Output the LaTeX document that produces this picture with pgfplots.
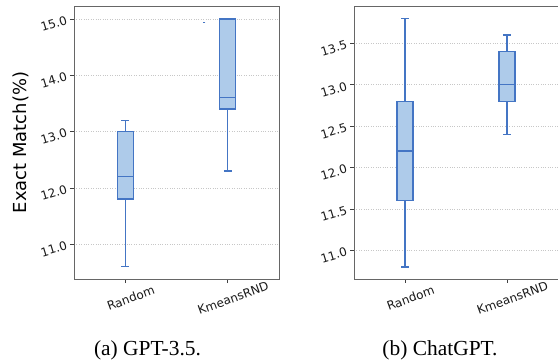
\documentclass[border=0pt]{standalone}
\usepackage{pgfplots}
\pgfplotsset{compat=1.18}
\usepgfplotslibrary{statistics}
\usepackage{fontspec}
\setmainfont{DejaVu Sans}
\newfontfamily\capfont{Liberation Serif}
\definecolor{boxfill}{RGB}{174,203,234}
\definecolor{boxdraw}{RGB}{68,117,196}
\pgfplotsset{
  myaxis/.style={
    scale only axis,
    width=205bp, height=273bp,
    xmin=0.5, xmax=2.5,
    xtick={1,2}, xticklabels={Random,KmeansRND},
    axis line style={draw=black!60, line width=0.9pt},
    tick style={draw=black!75, line width=0.6pt},
    tick align=outside,
    major tick length=4bp,
    xtick pos=bottom, ytick pos=left,
    ymajorgrids,
    grid style={dotted, black!22, line width=0.6pt},
    /pgf/number format/assume math mode=true,
    /pgf/number format/.cd, fixed, fixed zerofill, precision=1, /pgfplots/.cd,
    ticklabel style={font=\fontsize{12}{14}\selectfont, text=black!90},
    xticklabel style={rotate=20, anchor=north, yshift=-8bp},
    yticklabel style={rotate=17, anchor=east},
    boxplot/draw direction=y,
    boxplot/every box/.style={draw=boxdraw, fill=boxfill, line width=1.2pt, solid},
    boxplot/every whisker/.style={draw=boxdraw, line width=1.2pt, solid},
    boxplot/every median/.style={draw=boxdraw, line width=1.2pt, solid},
  },
}
\begin{document}
\begin{tikzpicture}
\path[use as bounding box] (0,0) rectangle (558bp,364bp);
\begin{axis}[myaxis, at={(74bp,85bp)}, anchor=south west,
  ymin=10.38, ymax=15.23, ytick={11,12,13,14,15},
  ylabel={Exact Match(\%)},
  ylabel style={font=\fontsize{18}{20}\selectfont, at={(axis description cs:-0.205,0.5)}, anchor=south}]
\addplot[boxplot prepared={lower whisker=10.6, lower quartile=11.8, median=12.2, upper quartile=13.0, upper whisker=13.2, draw position=1, box extend=0.156, whisker extend=0.075},
  draw=boxdraw, fill=boxfill, line width=1.2pt] coordinates {};
\addplot[boxplot prepared={lower whisker=12.3, lower quartile=13.4, median=13.6, upper quartile=15.0, upper whisker=15.0, draw position=2, box extend=0.156, whisker extend=0.075},
  draw=boxdraw, fill=boxfill, line width=1.2pt] coordinates {};
\addplot[only marks, mark=-, mark size=1.2bp, boxdraw, line width=0.9pt] coordinates {(1.77,14.93)};
\end{axis}
\begin{axis}[myaxis, at={(354bp,85bp)}, anchor=south west, width=204bp,
  ymin=10.655, ymax=13.95, ytick={11,11.5,12,12.5,13,13.5}]
\addplot[boxplot prepared={lower whisker=10.8, lower quartile=11.6, median=12.2, upper quartile=12.8, upper whisker=13.8, draw position=1, box extend=0.156, whisker extend=0.075},
  draw=boxdraw, fill=boxfill, line width=1.2pt] coordinates {};
\addplot[boxplot prepared={lower whisker=12.4, lower quartile=12.8, median=13.0, upper quartile=13.4, upper whisker=13.6, draw position=2, box extend=0.156, whisker extend=0.075},
  draw=boxdraw, fill=boxfill, line width=1.2pt] coordinates {};
\end{axis}
\node[inner sep=0pt, font=\capfont\fontsize{21.5}{24}\selectfont] at (147.5bp,14bp) {(a) GPT-3.5.};
\node[inner sep=0pt, font=\capfont\fontsize{21.5}{24}\selectfont] at (440bp,14bp) {(b) ChatGPT.};
\end{tikzpicture}
\end{document}
